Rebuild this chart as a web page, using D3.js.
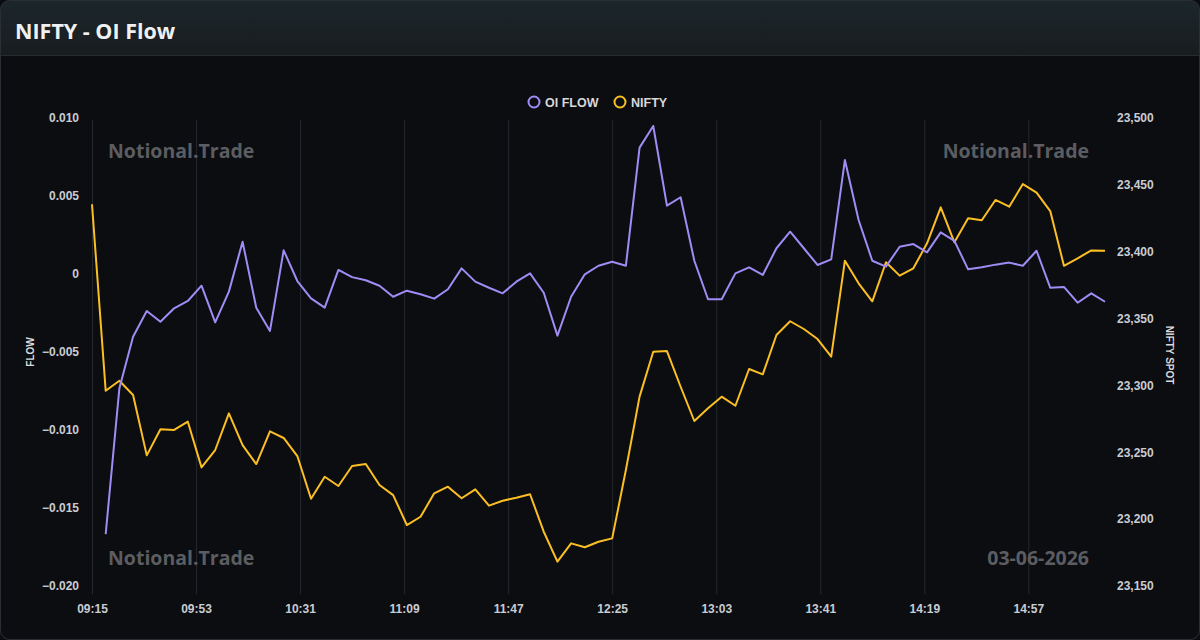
<!DOCTYPE html>
<html>
<head>
<meta charset="utf-8">
<script src="https://cdn.jsdelivr.net/npm/d3@7"></script>
<style>
  html, body { margin: 0; padding: 0; background: #0b0c0f; }
  svg { display: block; }
</style>
</head>
<body>
<div id="chart"></div>
<script>
// 5 minute bars, 09:15 to 15:25
var times = ["09:15","09:20","09:25","09:30","09:35","09:40","09:45","09:50","09:55","10:00",
  "10:05","10:10","10:15","10:20","10:25","10:30","10:35","10:40","10:45","10:50",
  "10:55","11:00","11:05","11:10","11:15","11:20","11:25","11:30","11:35","11:40",
  "11:45","11:50","11:55","12:00","12:05","12:10","12:15","12:20","12:25","12:30",
  "12:35","12:40","12:45","12:50","12:55","13:00","13:05","13:10","13:15","13:20",
  "13:25","13:30","13:35","13:40","13:45","13:50","13:55","14:00","14:05","14:10",
  "14:15","14:20","14:25","14:30","14:35","14:40","14:45","14:50","14:55","15:00",
  "15:05","15:10","15:15","15:20","15:25"];

var oiFlow = [null,-0.01667,-0.00733,-0.00402,-0.00237,-0.00306,-0.00220,-0.00173,-0.00075,-0.00310,
  -0.00113,0.00207,-0.00216,-0.00365,0.00152,-0.00045,-0.00156,-0.00216,0.00026,-0.00020,
  -0.00040,-0.00075,-0.00146,-0.00107,-0.00130,-0.00158,-0.00098,0.00036,-0.00049,-0.00088,
  -0.00124,-0.00049,0.00004,-0.00120,-0.00395,-0.00146,-0.00002,0.00053,0.00079,0.00053,
  0.00810,0.00949,0.00438,0.00492,0.00085,-0.00162,-0.00162,0.00004,0.00043,-0.00006,
  0.00165,0.00271,0.00165,0.00058,0.00094,0.00731,0.00346,0.00085,0.00047,0.00175,
  0.00192,0.00139,0.00267,0.00212,0.00030,0.00043,0.00060,0.00073,0.00053,0.00149,
  -0.00088,-0.00083,-0.00184,-0.00124,-0.00178];

var nifty = [23435.5,23296,23303.5,23292.8,23247.7,23267.2,23266.7,23272.9,23238.7,23251.7,
  23279.1,23255.4,23241.2,23265.7,23260.7,23247.2,23215.3,23231.7,23224.8,23239.7,
  23241.2,23225.5,23218,23195.6,23201.8,23219.3,23224.3,23215.6,23222.3,23210.1,
  23213.8,23216,23218.6,23190.6,23168.2,23181.9,23179,23183.1,23185.6,23236.7,
  23291.6,23325.2,23325.7,23299,23273.4,23282.9,23291.6,23284.8,23312.3,23308.3,
  23337.7,23348,23342.2,23334.7,23321.5,23393.3,23376.4,23362.9,23392.1,23382.1,
  23387.6,23406.3,23433.2,23407,23425,23423.5,23438.7,23433.7,23450.6,23444.2,
  23430.4,23389.5,23395.1,23401,23400.8];

var timeTicks = ["09:15","09:53","10:31","11:09","11:47","12:25","13:03","13:41","14:19","14:57"];
var flowTicks = [0.010,0.005,0,-0.005,-0.010,-0.015,-0.020];
var spotTicks = [23500,23450,23400,23350,23300,23250,23200,23150];

var W = 1200, H = 640;
var purple = "#a08cf4", yellow = "#fbbf24";
var labelFont = "'Liberation Sans', Arial, sans-serif";
var wmFont = "'Open Sans', 'Noto Sans', sans-serif";

var parse = d3.timeParse("%H:%M");

var svg = d3.select("#chart").append("svg").attr("width", W).attr("height", H);

var defs = svg.append("defs");
var grad = defs.append("linearGradient").attr("id", "hdr").attr("x1", 0).attr("y1", 0).attr("x2", 0).attr("y2", 1);
grad.append("stop").attr("offset", "0%").attr("stop-color", "#1c272b");
grad.append("stop").attr("offset", "100%").attr("stop-color", "#181c1f");
defs.append("clipPath").attr("id", "card")
  .append("rect").attr("x", 0.5).attr("y", 0.5).attr("width", W - 1).attr("height", H - 1).attr("rx", 9);

// card
svg.append("rect").attr("x", 0).attr("y", 0).attr("width", W).attr("height", H).attr("fill", "#0b0c0f");
var card = svg.append("g").attr("clip-path", "url(#card)");
card.append("rect").attr("x", 0).attr("y", 0).attr("width", W).attr("height", H).attr("fill", "#0c0d11");
card.append("rect").attr("x", 0).attr("y", 0).attr("width", W).attr("height", 56).attr("fill", "url(#hdr)");
card.append("line").attr("x1", 0).attr("x2", W).attr("y1", 55.5).attr("y2", 55.5).attr("stroke", "#262c30");
svg.append("rect").attr("x", 0.5).attr("y", 0.5).attr("width", W - 1).attr("height", H - 1).attr("rx", 9)
  .attr("fill", "none").attr("stroke", "#2a2f35");

svg.append("text").attr("x", 15).attr("y", 38.5)
  .attr("fill", "#eef0f2").attr("font-family", wmFont).attr("font-weight", 700).attr("font-size", 21.5)
  .text("NIFTY - OI Flow");

// scales
var x = d3.scaleTime().domain([parse("09:15"), parse("15:25")]).range([92, 1105]);
var yL = d3.scaleLinear().domain([-0.02, 0.01]).range([586, 118]);
var yR = d3.scaleLinear().domain([23150, 23500]).range([586, 118]);

// vertical grid
svg.append("g").selectAll("line").data(timeTicks).join("line")
  .attr("x1", function(d) { return x(parse(d)) + 0.5; })
  .attr("x2", function(d) { return x(parse(d)) + 0.5; })
  .attr("y1", 120).attr("y2", 594)
  .attr("stroke", "#25282e").attr("stroke-width", 1);

// watermarks
var wm = svg.append("g").attr("fill", "#5b5d61").attr("font-family", wmFont)
  .attr("font-weight", 700).attr("font-size", 19.5);
wm.append("text").attr("x", 108).attr("y", 158).text("Notional.Trade");
wm.append("text").attr("x", 1089).attr("y", 158).attr("text-anchor", "end").text("Notional.Trade");
wm.append("text").attr("x", 108).attr("y", 565).text("Notional.Trade");
wm.append("text").attr("x", 1089).attr("y", 565).attr("text-anchor", "end").text("03-06-2026");

// axes
var xAxis = d3.axisBottom(x).tickValues(timeTicks.map(parse)).tickFormat(d3.timeFormat("%H:%M")).tickSize(0).tickPadding(12);
var gx = svg.append("g").attr("transform", "translate(0,592)").call(xAxis);
var leftAxis = d3.axisLeft(yL).tickValues(flowTicks)
  .tickFormat(function(d) { return d === 0 ? "0" : d3.format(".3f")(d); }).tickSize(0).tickPadding(13);
var gl = svg.append("g").attr("transform", "translate(92,0)").call(leftAxis);
var rightAxis = d3.axisRight(yR).tickValues(spotTicks).tickFormat(d3.format(",")).tickSize(0).tickPadding(11);
var gr = svg.append("g").attr("transform", "translate(1106,0)").call(rightAxis);

[gx, gl, gr].forEach(function(g) {
  g.select(".domain").remove();
  g.selectAll("text").attr("fill", "#c9ccd1").attr("font-family", labelFont)
    .attr("font-weight", 700).attr("font-size", 12);
});

svg.append("text").attr("transform", "translate(34,352) rotate(-90)").attr("text-anchor", "middle")
  .attr("fill", "#d8dade").attr("font-family", labelFont).attr("font-weight", 700).attr("font-size", 10)
  .text("FLOW");
svg.append("text").attr("transform", "translate(1166,355) rotate(90)").attr("text-anchor", "middle")
  .attr("fill", "#d8dade").attr("font-family", labelFont).attr("font-weight", 700).attr("font-size", 10)
  .text("NIFTY SPOT");

// lines
var flowLine = d3.line()
  .defined(function(d, i) { return oiFlow[i] !== null; })
  .x(function(d, i) { return x(parse(times[i])); })
  .y(function(d, i) { return yL(oiFlow[i]); });
var spotLine = d3.line()
  .x(function(d, i) { return x(parse(times[i])); })
  .y(function(d, i) { return yR(nifty[i]); });

svg.append("path").datum(times).attr("d", spotLine)
  .attr("fill", "none").attr("stroke", yellow).attr("stroke-width", 2).attr("stroke-linejoin", "round");
svg.append("path").datum(times).attr("d", flowLine)
  .attr("fill", "none").attr("stroke", purple).attr("stroke-width", 2).attr("stroke-linejoin", "round");

// legend
var legend = [{ name: "OI FLOW", color: purple, x: 534 }, { name: "NIFTY", color: yellow, x: 620 }];
var lg = svg.append("g").selectAll("g").data(legend).join("g")
  .attr("transform", function(d) { return "translate(" + d.x + ",102)"; });
lg.append("circle").attr("r", 5.5).attr("fill", "none").attr("stroke", function(d) { return d.color; }).attr("stroke-width", 2);
lg.append("text").attr("x", 11).attr("y", 4.5).attr("fill", "#d6d8dc").attr("font-family", labelFont)
  .attr("font-weight", 700).attr("font-size", 12.5).text(function(d) { return d.name; });
</script>
</body>
</html>
